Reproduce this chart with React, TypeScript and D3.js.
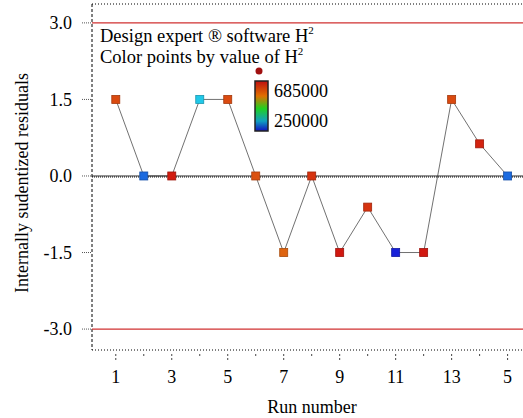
import React from "react";
import * as d3 from "d3";

// run order and studentized residuals
const runs = [1, 2, 3, 4, 5, 6, 7, 8, 9, 10, 11, 12, 13, 14, 15];
const residuals = [1.5, 0, 0, 1.5, 1.5, 0, -1.5, 0, -1.5, -0.61, -1.5, -1.5, 1.5, 0.63, 0];
// H^2 value used for colouring each point (estimated from colours)
const hValues = [610000, 295000, 670000, 345000, 610000, 600000, 575000, 640000, 675000, 640000, 255000, 675000, 610000, 660000, 295000];
const yTicks = [3, 1.5, 0, -1.5, -3];
const xTickLabels = ["1", "3", "5", "7", "9", "11", "13", "5"];
const limits = [3, -3];

const W = 523;
const H = 418;
const left = 92;
const right = 523;
const top = 4;
const bottom = 350;

const App = () => {
  const x = d3.scaleLinear().domain([0.15, 15.55]).range([left, right]);
  const y = d3.scaleLinear().domain([3.37, -3.41]).range([top, bottom]);
  const color = d3
    .scaleLinear<string>()
    .domain([250000, 345000, 430000, 560000, 685000])
    .range(["#1818d8", "#20c8e8", "#20d020", "#e07010", "#d01010"])
    .clamp(true);

  const line = d3
    .line<number>()
    .x((d, i) => x(runs[i]))
    .y(d => y(d));

  const font = "'Liberation Serif', 'Times New Roman', serif";
  const barTop = 81;
  const barBot = 131;

  return (
    <svg width={W} height={H} style={{ position: "absolute", left: 0, top: 0, background: "#fff" }} fontFamily={font}>
      <defs>
        <linearGradient id="cbar" x1="0" y1="0" x2="0" y2="1">
          <stop offset="0" stopColor="#c01010" />
          <stop offset="0.3" stopColor="#e07000" />
          <stop offset="0.55" stopColor="#20d020" />
          <stop offset="0.8" stopColor="#10a0c0" />
          <stop offset="1" stopColor="#1010c0" />
        </linearGradient>
      </defs>

      {/* frame */}
      <line x1={left} x2={left} y1={top} y2={bottom} stroke="#000" strokeDasharray="3,2" />
      <line x1={left} x2={right} y1={top} y2={top} stroke="#000" strokeDasharray="1,2" />
      <line x1={left} x2={right} y1={bottom} y2={bottom} stroke="#000" strokeDasharray="1,2" />

      {/* y ticks */}
      {yTicks.map(t => (
        <g key={t}>
          <line x1={left - 10} x2={left} y1={y(t)} y2={y(t)} stroke="#555" strokeDasharray="1,1" />
          <text x={left - 20} y={y(t)} dy="0.35em" textAnchor="end" fontSize={18}>
            {t.toFixed(1)}
          </text>
        </g>
      ))}

      {/* x ticks */}
      {runs.map((r, i) => (
        <line key={r} x1={x(r)} x2={x(r)} y1={bottom + 4} y2={bottom + (i % 2 === 0 ? 10 : 7)} stroke="#444" strokeDasharray="2,2" />
      ))}
      {runs
        .filter((r, i) => i % 2 === 0)
        .map((r, i) => (
          <text key={r} x={x(r)} y={bottom + 33} textAnchor="middle" fontSize={18}>
            {xTickLabels[i]}
          </text>
        ))}

      {/* limit lines */}
      {limits.map(l => (
        <line key={l} x1={left} x2={right} y1={y(l)} y2={y(l)} stroke="#d03030" strokeWidth={1.2} />
      ))}
      <line x1={left} x2={right} y1={y(0)} y2={y(0)} stroke="#333" strokeWidth={1} />
      <line x1={left} x2={right} y1={y(0) + 1} y2={y(0) + 1} stroke="#000" strokeDasharray="1,1" />

      {/* residual line */}
      <path d={line(residuals) || ""} fill="none" stroke="#333" strokeWidth={0.7} />

      {/* points */}
      {residuals.map((v, i) => (
        <rect key={i} x={x(runs[i]) - 4} y={y(v) - 4} width={8} height={8} fill={color(hValues[i])} stroke={d3.color(color(hValues[i]))!.darker(0.8).toString()} strokeWidth={0.8} />
      ))}

      {/* legend */}
      <text x={100} y={42} fontSize={18.5}>
        Design expert ® software H<tspan dy={-8} fontSize={11}>2</tspan>
      </text>
      <text x={100} y={63} fontSize={18.5}>
        Color points by value of H<tspan dy={-8} fontSize={11}>2</tspan>
      </text>
      <circle cx={259} cy={71} r={3.5} fill="#a01010" />
      <rect x={255} y={barTop} width={13} height={barBot - barTop} fill="url(#cbar)" stroke="#222" strokeWidth={1.5} />
      <text x={274} y={97} fontSize={18}>685000</text>
      <text x={274} y={127} fontSize={18}>250000</text>

      {/* axis titles */}
      <text transform="translate(28,183) rotate(-90)" textAnchor="middle" fontSize={18}>
        Internally sudentized residuals
      </text>
      <text x={312} y={413} textAnchor="middle" fontSize={18}>
        Run number
      </text>
    </svg>
  );
};

export default App;
